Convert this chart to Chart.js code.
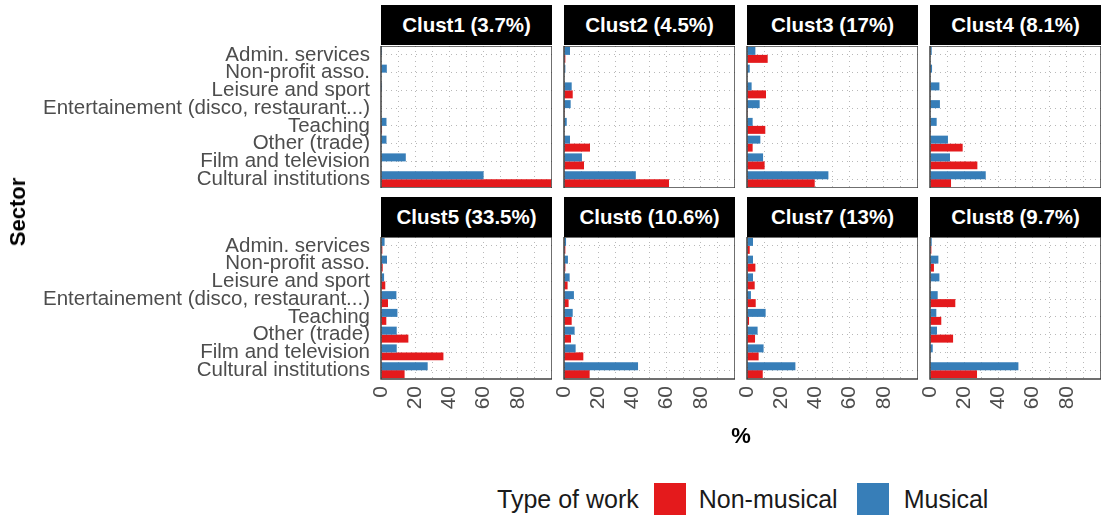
<!DOCTYPE html>
<html>
<head>
<meta charset="utf-8">
<script src="https://cdn.jsdelivr.net/npm/chart.js@4/dist/chart.umd.min.js"></script>
<style>
  body { margin: 0; background: #fff; font-family: "Liberation Sans", Arial, sans-serif; }
  #wrap { position: relative; width: 1102px; height: 518px; overflow: hidden; }
  .box { position: absolute; }
  .strip { position: absolute; background: #000; color: #fff; font-weight: bold; font-size: 20.5px;
           display: flex; align-items: center; justify-content: center; }
  .title { position: absolute; font-weight: bold; font-size: 22px; color: #000; }
  .legend { position: absolute; left: 497px; top: 482px; height: 34px; display: flex; align-items: center;
            font-size: 25px; color: #1a1a1a; }
  .key { width: 32px; height: 32px; display: inline-block; }
</style>
</head>
<body>
<div id="wrap"></div>
<script>
// sectors, top to bottom
const sectors = ['Admin. services', 'Non-profit asso.', 'Leisure and sport',
    'Entertainement (disco, restaurant...)', 'Teaching', 'Other (trade)',
    'Film and television', 'Cultural institutions'];
const clusters = ['Clust1 (3.7%)', 'Clust2 (4.5%)', 'Clust3 (17%)', 'Clust4 (8.1%)',
    'Clust5 (33.5%)', 'Clust6 (10.6%)', 'Clust7 (13%)', 'Clust8 (9.7%)'];
const xTicks = [0, 20, 40, 60, 80];

// % per sector, one row per cluster
const musical = [
    [0.6, 3.4, 0.6, 0, 3.2, 3.2, 14.5, 60],
    [3.5, 0.8, 4.5, 3.9, 1.6, 3.5, 10.5, 42],
    [4.9, 1.6, 2.7, 7.4, 3.3, 7.8, 9.4, 47.6],
    [1.0, 1.2, 5.5, 5.8, 3.9, 10.5, 11.7, 32.6],
    [2.1, 3.5, 1.8, 9.0, 9.6, 9.2, 9.2, 27.3],
    [1.2, 2.3, 3.3, 5.8, 5.1, 6.2, 6.8, 43.3],
    [3.5, 3.5, 3.5, 2.3, 10.9, 6.2, 9.7, 28.3],
    [1.0, 4.9, 5.5, 4.5, 3.7, 4.1, 1.6, 51.7]
];
const nonMusical = [
    [0, 0, 0, 0, 0.6, 0, 0, 99.5],
    [0.8, 0, 5.1, 0.4, 0, 15.2, 11.7, 61.4],
    [12.1, 0, 11.1, 0.4, 10.7, 3.3, 10.3, 39.6],
    [0, 0, 0, 0, 0.4, 19.1, 27.7, 12.3],
    [0.8, 1.0, 2.5, 4.1, 3.1, 16.0, 36.5, 13.8],
    [0.8, 0.8, 2.1, 2.7, 4.5, 4.1, 11.3, 15.0],
    [1.6, 4.9, 4.5, 5.1, 1.2, 4.7, 6.8, 9.2],
    [0.8, 2.3, 0, 14.8, 6.6, 13.5, 0, 27.5]
];

const RED = '#E41A1C';
const BLUE = '#377EB8';
const panelLeft = [381, 564, 747, 930];
const panelTop = [46, 237];
const stripTop = [5, 197];
const panelW = 171, panelH = 142, stripH = 40, labelW = 381, axisH = 50, gutter = 12;

const wrap = document.getElementById('wrap');

const borderPlugin = {
    id: 'panelBorder',
    afterDraw(chart) {
        const a = chart.chartArea, c = chart.ctx;
        c.save();
        c.strokeStyle = '#333333';
        c.lineWidth = 1.4;
        c.strokeRect(a.left, a.top, a.right - a.left, a.bottom - a.top);
        c.restore();
    }
};

// keep the panel exactly where the strip is, no label overhang padding
function noPad(s) {
    s.paddingTop = 0; s.paddingBottom = 0; s.paddingLeft = 0; s.paddingRight = 0;
}

clusters.forEach((name, i) => {
    const row = Math.floor(i / 4), col = i % 4;
    const firstCol = col === 0, lastRow = row === 1;

    const strip = document.createElement('div');
    strip.className = 'strip';
    strip.style.left = panelLeft[col] + 'px';
    strip.style.top = stripTop[row] + 'px';
    strip.style.width = panelW + 'px';
    strip.style.height = stripH + 'px';
    strip.textContent = name;
    wrap.appendChild(strip);

    const box = document.createElement('div');
    box.className = 'box';
    const yW = firstCol ? labelW : gutter;
    const left = panelLeft[col] - yW;
    box.style.left = left + 'px';
    box.style.top = panelTop[row] + 'px';
    box.style.width = (yW + panelW) + 'px';
    box.style.height = (panelH + (lastRow ? axisH : 0)) + 'px';
    const cv = document.createElement('canvas');
    box.appendChild(cv);
    wrap.appendChild(box);

    new Chart(cv.getContext('2d'), {
        type: 'bar',
        data: {
            labels: sectors,
            datasets: [{
                label: 'Musical',
                data: musical[i],
                backgroundColor: BLUE,
                categoryPercentage: 0.9,
                barPercentage: 1.0
            }, {
                label: 'Non-musical',
                data: nonMusical[i],
                backgroundColor: RED,
                categoryPercentage: 0.9,
                barPercentage: 1.0
            }]
        },
        options: {
            indexAxis: 'y',
            responsive: true,
            maintainAspectRatio: false,
            animation: false,
            layout: { padding: 0 },
            scales: {
                x: {
                    min: 0,
                    max: 100,
                    afterFit: s => { s.height = lastRow ? axisH : 0; noPad(s); },
                    afterBuildTicks: s => { s.ticks = [0,10,20,30,40,50,60,70,80,90,100].map(v => ({ value: v })); },
                    grid: { color: '#b8b8b8', lineWidth: 1, drawTicks: false },
                    border: { display: false, dash: [1, 4] },
                    ticks: {
                        display: lastRow,
                        autoSkip: false,
                        minRotation: 90,
                        maxRotation: 90,
                        padding: 7,
                        color: '#4d4d4d',
                        font: { family: 'Liberation Sans', size: 21 },
                        callback: v => xTicks.includes(v) ? String(v) : ''
                    }
                },
                y: {
                    afterFit: s => { s.width = yW; noPad(s); },
                    grid: { color: '#b8b8b8', lineWidth: 1, drawTicks: false, offset: false },
                    border: { display: false, dash: [1, 4] },
                    ticks: {
                        display: firstCol,
                        autoSkip: false,
                        padding: 11,
                        color: '#4d4d4d',
                        font: { family: 'Liberation Sans', size: 20.5 }
                    }
                }
            },
            plugins: {
                legend: { display: false },
                tooltip: { enabled: false }
            }
        },
        plugins: [borderPlugin]
    });
});

// axis titles
const yTitle = document.createElement('div');
yTitle.className = 'title';
yTitle.textContent = 'Sector';
yTitle.style.left = '18px';
yTitle.style.top = '212px';
yTitle.style.transform = 'translate(-50%, -50%) rotate(-90deg)';
wrap.appendChild(yTitle);

const xTitle = document.createElement('div');
xTitle.className = 'title';
xTitle.textContent = '%';
xTitle.style.left = '741px';
xTitle.style.top = '436px';
xTitle.style.transform = 'translate(-50%, -50%)';
wrap.appendChild(xTitle);

// legend
const legend = document.createElement('div');
legend.className = 'legend';
legend.innerHTML =
    '<span>Type of work</span>' +
    '<span class="key" style="background:' + RED + ';margin-left:15px"></span>' +
    '<span style="margin-left:13px">Non-musical</span>' +
    '<span class="key" style="background:' + BLUE + ';margin-left:19px"></span>' +
    '<span style="margin-left:15px">Musical</span>';
wrap.appendChild(legend);
</script>
</body>
</html>
